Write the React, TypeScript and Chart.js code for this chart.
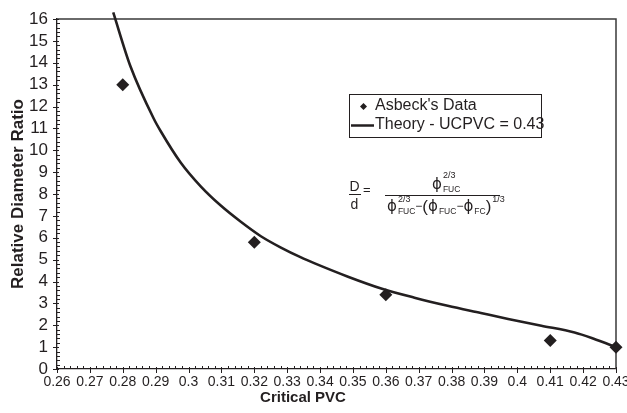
import { useEffect, useRef } from "react";
import { Chart, registerables } from "chart.js";

Chart.register(...registerables);

// Measured points (Asbeck)
const pvcMeasured = [0.28, 0.32, 0.36, 0.41, 0.43];
const ratioMeasured = [13.0, 5.8, 3.4, 1.3, 1.0];

// Theory curve, UCPVC = 0.43
const pvcTheory = [
  0.2771, 0.2823, 0.2894, 0.2915, 0.2976, 0.3037, 0.3098, 0.3159, 0.322, 0.3281,
  0.3342, 0.3382, 0.3485, 0.3586, 0.3687, 0.3788, 0.3889, 0.3972, 0.4073, 0.4174,
  0.4226, 0.4277, 0.43,
];
const ratioTheory = [
  16.3, 13.85, 11.45, 10.88, 9.44, 8.35, 7.47, 6.73, 6.07, 5.55,
  5.1, 4.84, 4.22, 3.68, 3.26, 2.89, 2.56, 2.29, 1.98, 1.67,
  1.42, 1.13, 1.0,
];

const xTickValues = [
  0.26, 0.27, 0.28, 0.29, 0.3, 0.31, 0.32, 0.33, 0.34, 0.35, 0.36, 0.37, 0.38,
  0.39, 0.4, 0.41, 0.42, 0.43,
];
const yTickValues = [0, 1, 2, 3, 4, 5, 6, 7, 8, 9, 10, 11, 12, 13, 14, 15, 16];
const xMinorStep = 0.002;
const yMinorStep = 0.2;

const legendLabels = ["Asbeck's Data", "Theory - UCPVC = 0.43"];
const xTitle = "Critical PVC";
const yTitle = "Relative Diameter Ratio";

const INK = "#231f20";
const FONT = "'Liberation Sans', Arial, sans-serif";
const PHI_FONT = "'DejaVu Sans', sans-serif";
const PHI = "\u03D5";

const decorations = {
  id: "decorations",
  beforeDatasetsDraw(chart: any) {
    const { ctx, chartArea: a, scales } = chart;
    const xs = scales.x;
    const ys = scales.y;
    ctx.save();
    ctx.strokeStyle = "#3a3a3a";
    ctx.lineWidth = 1.5;
    // top and right frame lines
    ctx.beginPath();
    ctx.moveTo(a.left, a.top);
    ctx.lineTo(a.right, a.top);
    ctx.lineTo(a.right, a.bottom);
    ctx.stroke();

    ctx.strokeStyle = INK;
    ctx.lineWidth = 1;
    // x ticks: majors cross downward, minors point inward
    const nx = Math.round((xs.max - xs.min) / xMinorStep);
    for (let i = 0; i <= nx; i++) {
      const v = xs.min + i * xMinorStep;
      const px = Math.round(xs.getPixelForValue(v)) + 0.5;
      const major = i % 5 === 0;
      ctx.beginPath();
      ctx.moveTo(px, a.bottom - (major ? 2 : 3));
      ctx.lineTo(px, a.bottom + (major ? 4 : 0));
      ctx.stroke();
    }
    // y ticks
    const ny = Math.round((ys.max - ys.min) / yMinorStep);
    for (let i = 0; i <= ny; i++) {
      const v = ys.min + i * yMinorStep;
      const py = Math.round(ys.getPixelForValue(v)) + 0.5;
      const major = i % 5 === 0;
      ctx.beginPath();
      ctx.moveTo(a.left - (major ? 4 : 0), py);
      ctx.lineTo(a.left + (major ? 2 : 3), py);
      ctx.stroke();
    }
    ctx.restore();
  },
  afterDraw(chart: any) {
    const { ctx } = chart;
    ctx.save();
    ctx.fillStyle = INK;
    ctx.strokeStyle = INK;

    // x-axis title
    ctx.textAlign = "center";
    ctx.textBaseline = "middle";
    ctx.font = `bold 15px ${FONT}`;
    ctx.fillText(xTitle, 303, 398);

    // legend box
    ctx.textAlign = "left";
    ctx.lineWidth = 1;
    ctx.strokeRect(349.5, 94.5, 192, 43);
    ctx.font = `16px ${FONT}`;
    ctx.beginPath();
    ctx.moveTo(363.5, 103);
    ctx.lineTo(367, 106.5);
    ctx.lineTo(363.5, 110);
    ctx.lineTo(360, 106.5);
    ctx.closePath();
    ctx.fill();
    ctx.fillText(legendLabels[0], 375, 106);
    ctx.lineWidth = 2.5;
    ctx.beginPath();
    ctx.moveTo(351, 125.5);
    ctx.lineTo(374, 125.5);
    ctx.stroke();
    ctx.fillText(legendLabels[1], 375, 125);

    // D/d = phi_FUC^(2/3) / (phi_FUC^(2/3) - (phi_FUC - phi_FC)^(1/3))
    ctx.textBaseline = "alphabetic";
    ctx.textAlign = "center";
    ctx.font = `14px ${FONT}`;
    ctx.fillText("D", 354.5, 191);
    ctx.fillText("d", 354.5, 209);
    ctx.lineWidth = 1;
    ctx.beginPath();
    ctx.moveTo(349, 194.5);
    ctx.lineTo(361, 194.5);
    ctx.stroke();
    ctx.textAlign = "left";
    ctx.textBaseline = "middle";
    ctx.font = `13px ${FONT}`;
    ctx.fillText("=", 363, 190);
    ctx.textBaseline = "alphabetic";

    ctx.beginPath();
    ctx.moveTo(385, 195.5);
    ctx.lineTo(500, 195.5);
    ctx.stroke();

    const put = (s: string, font: string, x: number, y: number) => {
      ctx.font = font;
      ctx.fillText(s, x, y);
      return ctx.measureText(s).width;
    };
    const phiF = `15px ${PHI_FONT}`;
    const supF = `9px ${FONT}`;
    const subF = `8.5px ${FONT}`;

    // numerator
    {
      const y = 189;
      let x = 432;
      x += put(PHI, phiF, x, y);
      put("2/3", supF, x + 1, 178);
      put("FUC", subF, x + 1, 192);
    }

    // denominator
    {
      const y = 211;
      let x = 387;
      x += put(PHI, phiF, x, y);
      const a1 = put("2/3", supF, x + 1, 202);
      const b1 = put("FUC", subF, x + 1, 214);
      x += Math.max(a1, b1) + 1;
      x += put("\u2212", `12px ${FONT}`, x, y - 1);
      x += put("(", `17px ${FONT}`, x, y + 1);
      x += put(PHI, phiF, x, y);
      x += put("FUC", subF, x + 1, 214) + 1;
      x += put("\u2212", `12px ${FONT}`, x, y - 1);
      x += put(PHI, phiF, x, y);
      x += put("FC", subF, x + 1, 214) + 1;
      x += put(")", `17px ${FONT}`, x, y + 1);
      put("1/3", supF, x + 1, 202);
    }

    ctx.restore();
  },
};

export default function App() {
  const ref = useRef<HTMLCanvasElement | null>(null);

  useEffect(() => {
    const canvas = ref.current;
    if (!canvas) return;
    const chart = new Chart(canvas, {
      type: "scatter",
      data: {
        datasets: [
          {
            label: legendLabels[0],
            data: pvcMeasured.map((x, i) => ({ x, y: ratioMeasured[i] })),
            pointStyle: "rectRot",
            pointRadius: 6.5,
            pointBackgroundColor: INK,
            pointBorderColor: INK,
            pointBorderWidth: 0,
            showLine: false,
            clip: false as any,
          },
          {
            label: legendLabels[1],
            data: pvcTheory.map((x, i) => ({ x, y: ratioTheory[i] })),
            showLine: true,
            borderColor: INK,
            borderWidth: 2.6,
            pointRadius: 0,
            cubicInterpolationMode: "monotone",
            clip: false as any,
          },
        ],
      },
      options: {
        responsive: false,
        animation: false,
        events: [],
        layout: { padding: { top: 19, right: 11, left: 0, bottom: 0 } },
        plugins: {
          legend: { display: false },
          tooltip: { enabled: false },
        },
        scales: {
          x: {
            type: "linear",
            min: 0.26,
            max: 0.43,
            grid: { display: false, drawTicks: false },
            border: { display: true, color: INK, width: 1.3 },
            afterBuildTicks: (s: any) => {
              s.ticks = xTickValues.map((value) => ({ value }));
            },
            afterFit: (s: any) => {
              s.height = 44;
              s.paddingLeft = 0;
              s.paddingRight = 0;
            },
            ticks: {
              autoSkip: false,
              maxRotation: 0,
              padding: 5,
              color: INK,
              font: { family: FONT, size: 14 },
              callback: (v: any) => String(Number(Number(v).toFixed(2))),
            },
          },
          y: {
            type: "linear",
            min: 0,
            max: 16,
            grid: { display: false, drawTicks: false },
            border: { display: true, color: INK, width: 1.3 },
            afterBuildTicks: (s: any) => {
              s.ticks = yTickValues.map((value) => ({ value }));
            },
            afterFit: (s: any) => {
              s.width = 57;
              s.paddingTop = 0;
              s.paddingBottom = 0;
            },
            ticks: {
              autoSkip: false,
              padding: 9,
              color: INK,
              font: { family: FONT, size: 17 },
            },
            title: {
              display: true,
              text: yTitle,
              color: INK,
              font: { family: FONT, size: 17, weight: "bold" },
              padding: { top: 8, bottom: 0 },
            },
          },
        },
      },
      plugins: [decorations],
    });
    return () => chart.destroy();
  }, []);

  return (
    <div style={{ position: "absolute", left: 0, top: 0, width: 627, height: 413, background: "#fff" }}>
      <canvas ref={ref} width={627} height={413} style={{ display: "block" }} />
    </div>
  );
}
